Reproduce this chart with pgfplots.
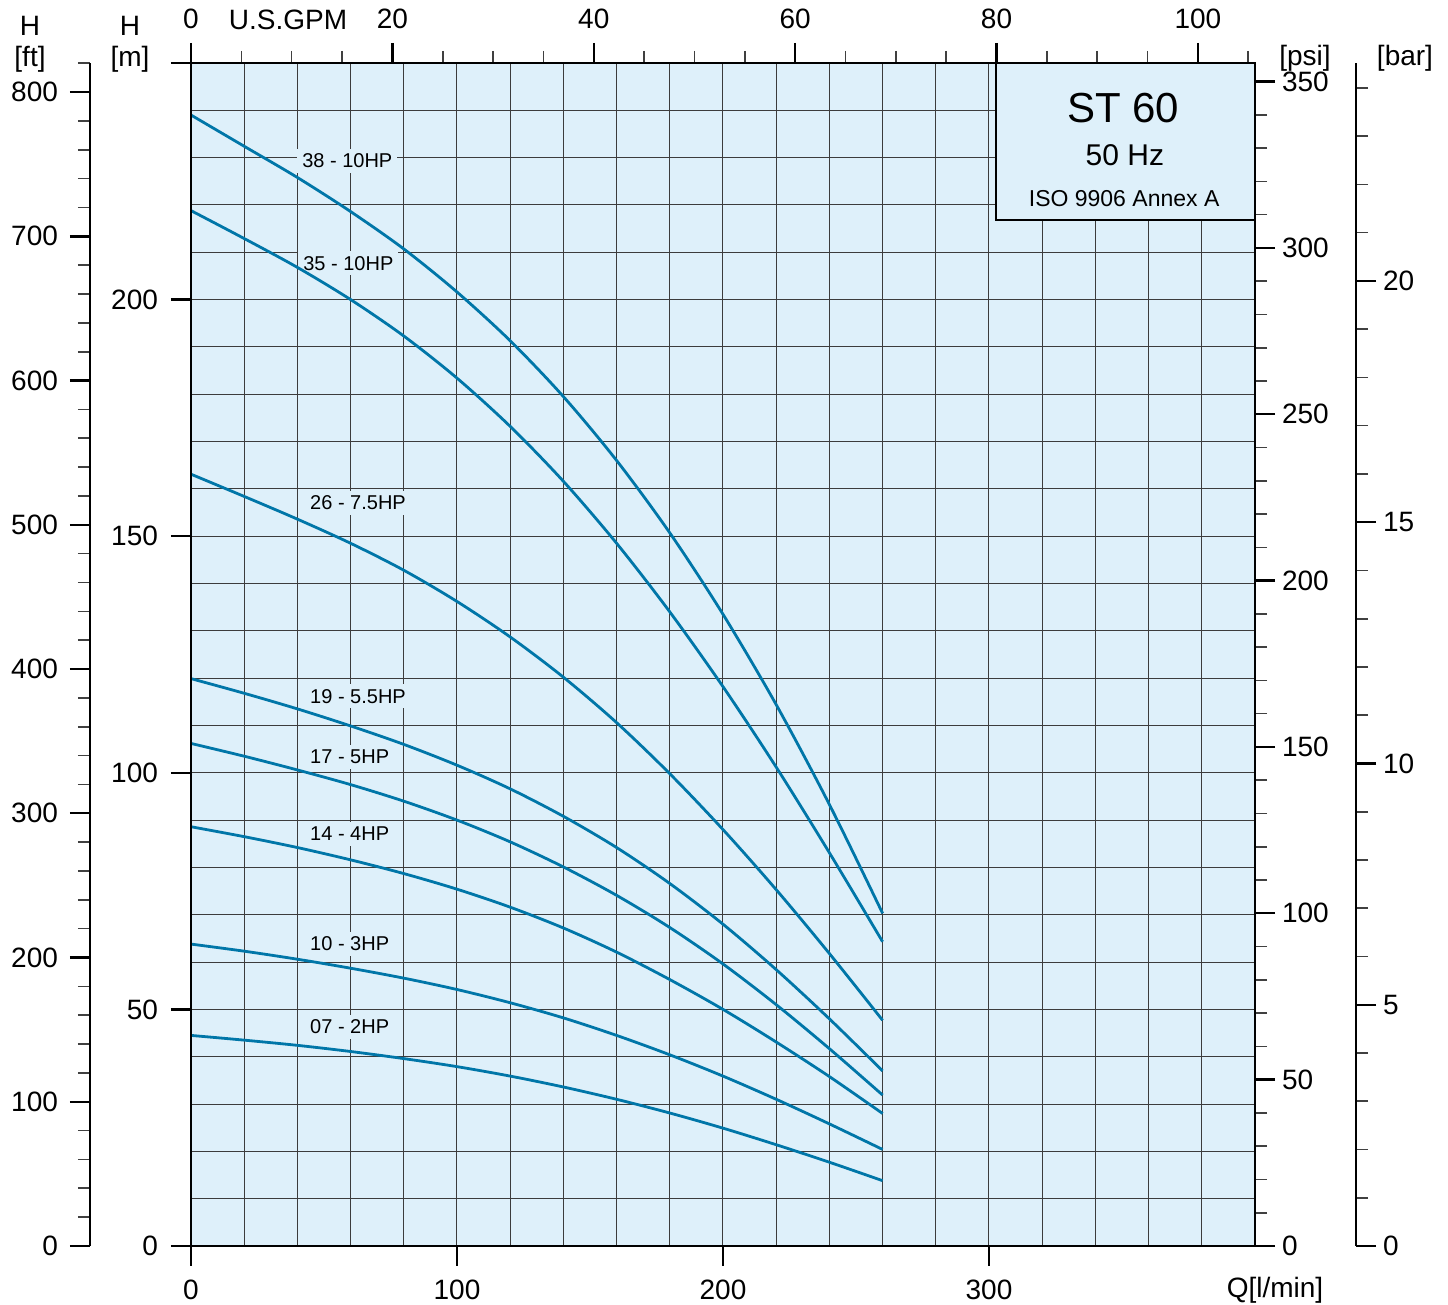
\documentclass[border=0pt]{standalone}
\usepackage{pgfplots}
\pgfplotsset{compat=1.18}
\usepackage{fontspec}
\setmainfont{Liberation Sans}

\definecolor{bgblue}{RGB}{222,240,250}
\definecolor{curveblue}{RGB}{0,118,168}
\definecolor{gridgray}{RGB}{60,60,60}

\pgfplotsset{
  base/.style={
    scale only axis, width=532pt, height=591.5pt,
    /pgf/number format/assume math mode=true,
    tick label style={font=\fontsize{14}{16}\selectfont},
    axis line style={-, line width=1.3pt, black},
    major tick style={line width=1.2pt, black},
    minor tick style={line width=0.8pt, black!75},
    major tick length=10pt, minor tick length=6pt,
    tick align=outside,
  },
  pumpcurve/.style={curveblue, line width=1.4pt, no marks},
}
\tikzset{hp/.style={anchor=west, fill=bgblue, inner sep=2.5pt, font=\fontsize{10}{12}\selectfont}}

\begin{document}
\begin{tikzpicture}

% grid, curves, box
\begin{axis}[base,
  xmin=0, xmax=400, ymin=0, ymax=250,
  axis background/.style={fill=bgblue},
  xtick={0,20,...,400}, ytick={0,10,...,250},
  xticklabels={}, yticklabels={},
  major tick length=0pt,
  grid=major, grid style={line width=0.5pt, gridgray},
  clip=false]

\node[hp] at (axis cs:39.8,229.3) {38 - 10HP};
\node[hp] at (axis cs:40.2,207.7) {35 - 10HP};
\node[hp] at (axis cs:42.8,157.0) {26 - 7.5HP};
\node[hp] at (axis cs:42.8,116.2) {19 - 5.5HP};
\node[hp] at (axis cs:42.8,103.3) {17 - 5HP};
\node[hp] at (axis cs:42.8,87.1) {14 - 4HP};
\node[hp] at (axis cs:42.8,63.8) {10 - 3HP};
\node[hp] at (axis cs:42.8,46.3) {07 - 2HP};

% 38 - 10HP
\addplot[pumpcurve, smooth] coordinates {
  (0,239.0) (20,232.4) (40,225.8) (60,218.6) (80,210.7) (100,201.6) (120,191.3)
  (140,179.5) (160,166.0) (180,150.7) (200,133.5) (220,114.4) (240,93.3) (260,70.3)};
% 35 - 10HP
\addplot[pumpcurve, smooth] coordinates {
  (0,218.8) (20,212.9) (40,206.8) (60,200.0) (80,192.3) (100,183.4) (120,173.2)
  (140,161.6) (160,148.5) (180,134.0) (200,118.2) (220,101.2) (240,83.1) (260,64.3)};
% 26 - 7.5HP
\addplot[pumpcurve, smooth] coordinates {
  (0,163.1) (20,158.4) (40,153.6) (60,148.5) (80,142.8) (100,136.2) (120,128.7)
  (140,120.2) (160,110.6) (180,99.8) (200,88.0) (220,75.3) (240,61.8) (260,47.7)};
% 19 - 5.5HP
\addplot[pumpcurve, smooth] coordinates {
  (0,119.9) (20,116.8) (40,113.5) (60,109.9) (80,106.0) (100,101.6) (120,96.6)
  (140,90.8) (160,84.2) (180,76.6) (200,68.0) (220,58.4) (240,48.0) (260,37.0)};
% 17 - 5HP
\addplot[pumpcurve, smooth] coordinates {
  (0,106.2) (20,103.5) (40,100.6) (60,97.5) (80,94.0) (100,90.0) (120,85.4)
  (140,80.1) (160,74.1) (180,67.3) (200,59.6) (220,51.0) (240,41.7) (260,31.9)};
% 14 - 4HP
\addplot[pumpcurve, smooth] coordinates {
  (0,88.6) (20,86.5) (40,84.2) (60,81.6) (80,78.7) (100,75.4) (120,71.6)
  (140,67.2) (160,62.1) (180,56.3) (200,50.0) (220,43.1) (240,35.8) (260,28.0)};
% 10 - 3HP
\addplot[pumpcurve, smooth] coordinates {
  (0,63.8) (20,62.3) (40,60.6) (60,58.7) (80,56.6) (100,54.2) (120,51.4)
  (140,48.2) (160,44.5) (180,40.4) (200,35.9) (220,31.0) (240,25.8) (260,20.4)};
% 07 - 2HP
\addplot[pumpcurve, smooth] coordinates {
  (0,44.5) (20,43.5) (40,42.4) (60,41.1) (80,39.6) (100,37.9) (120,35.9)
  (140,33.6) (160,31.0) (180,28.1) (200,24.9) (220,21.4) (240,17.7) (260,13.8)};

\draw[line width=1pt, fill=bgblue] (axis cs:302.8,216.8) rectangle (axis cs:400,250);
\node[font=\fontsize{21}{24}\selectfont] at (axis cs:350.5,240.5) {ST 60};
\node[font=\fontsize{15}{18}\selectfont] at (axis cs:351.1,230.6) {50 Hz};
\node[font=\fontsize{11.5}{14}\selectfont] at (axis cs:350.8,221.3) {ISO 9906 Annex A};
\end{axis}

% Q [l/min] and H [m]
\begin{axis}[base,
  xmin=0, xmax=400, ymin=0, ymax=250,
  axis x line*=bottom, axis y line*=left,
  xtick={0,100,200,300}, ytick={0,50,...,250},
  yticklabels={0,50,100,150,200,{}},
  xticklabel style={yshift=-3.5pt}, yticklabel style={xshift=-3pt}]
\end{axis}

% U.S. GPM
\begin{axis}[base,
  xmin=0, xmax=105.669, ymin=0, ymax=1,
  axis x line*=top, hide y axis,
  xtick={0,20,...,100}, minor xtick={5,10,...,105},
  xticklabel style={yshift=3.5pt}]
\end{axis}

% H [ft]
\begin{axis}[base, at={(-50.5pt,0pt)},
  xmin=0, xmax=1, ymin=0, ymax=820.21,
  hide x axis, axis y line*=left,
  ytick={0,100,...,800}, minor ytick={0,20,...,820},
  yticklabel style={xshift=-2.5pt}]
\end{axis}

% psi
\begin{axis}[base,
  xmin=0, xmax=1, ymin=0, ymax=355.58,
  hide x axis, axis y line*=right,
  ytick={0,50,...,350}, minor ytick={0,10,...,350}]
\end{axis}

% bar
\begin{axis}[base, at={(50.5pt,0pt)},
  xmin=0, xmax=1, ymin=0, ymax=24.517,
  hide x axis, axis y line*=right,
  ytick={0,5,...,20}, minor ytick={0,1,...,24}]
\end{axis}

\begin{scope}[every node/.style={font=\fontsize{14}{16}\selectfont, inner sep=0pt}]
\node at (-80.5pt,610pt) {H};
\node at (-80.5pt,593.5pt) {[ft]};
\node at (-30.5pt,610pt) {H};
\node at (-30.5pt,593.5pt) {[m]};
\node at (557pt,594pt) {[psi]};
\node at (607pt,594pt) {[bar]};
\node at (48.5pt,613pt) {U.S.GPM};
\node at (542pt,-22pt) {Q[l/min]};
\end{scope}

\pgfresetboundingbox
\useasboundingbox (-95.5pt,-29.5pt) rectangle (628.5pt,623pt);
\end{tikzpicture}
\end{document}
